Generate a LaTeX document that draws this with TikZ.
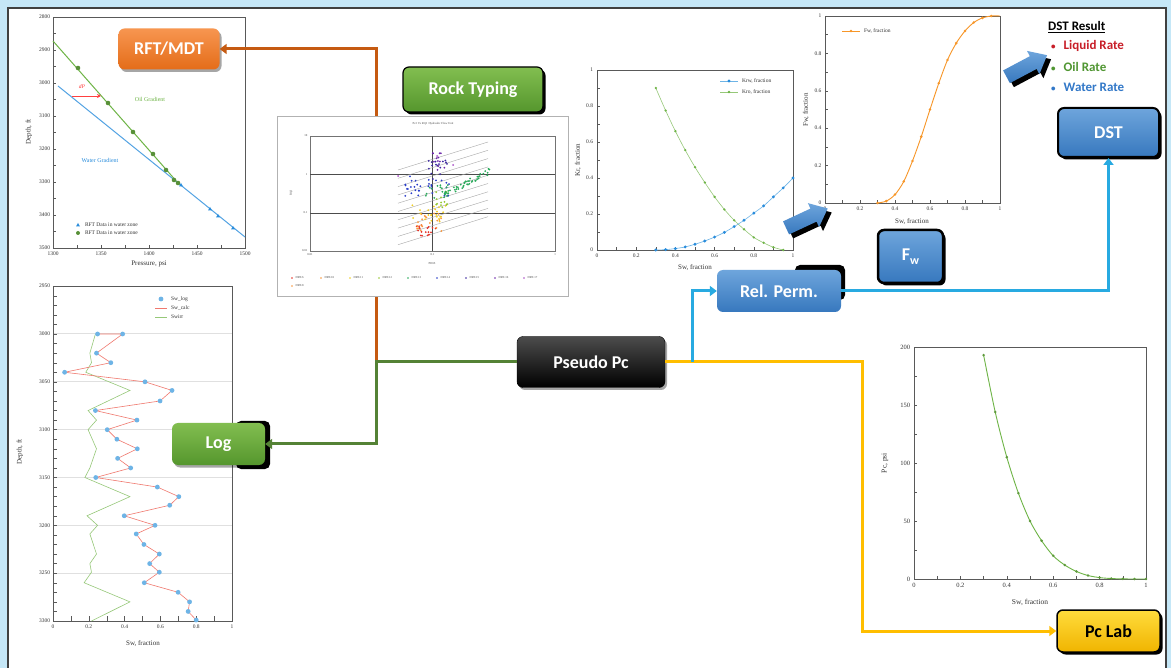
\documentclass[tikz,border=0pt]{standalone}
\usepackage{fontspec}
\setmainfont{Liberation Serif}
\newfontfamily\nodefont{Carlito}
\usetikzlibrary{arrows.meta,shapes.arrows,shadows}
\definecolor{bgblue}{RGB}{197,231,247}
\definecolor{orngA}{RGB}{247,150,80}
\definecolor{orngB}{RGB}{228,108,25}
\definecolor{orline}{RGB}{197,90,17}
\definecolor{grnA}{RGB}{130,190,80}
\definecolor{grnB}{RGB}{85,150,45}
\definecolor{grline}{RGB}{84,130,53}
\definecolor{bluA}{RGB}{110,165,220}
\definecolor{bluB}{RGB}{55,120,190}
\definecolor{blline}{RGB}{40,170,225}
\definecolor{yelA}{RGB}{255,220,60}
\definecolor{yelB}{RGB}{240,180,0}
\definecolor{ylline}{RGB}{255,190,0}
\definecolor{plgreen}{RGB}{110,180,70}
\definecolor{plblue}{RGB}{40,140,220}
\definecolor{plorange}{RGB}{247,150,40}
\definecolor{swblue}{RGB}{110,180,230}
\definecolor{swred}{RGB}{240,120,110}
\definecolor{swgreen}{RGB}{150,200,120}
\definecolor{dstred}{RGB}{200,30,40}
\definecolor{dstgreen}{RGB}{80,150,50}
\definecolor{dstblue}{RGB}{50,120,200}
\definecolor{rtred}{RGB}{230,50,40}
\definecolor{rtorange}{RGB}{250,150,60}
\definecolor{rtyellow}{RGB}{240,205,30}
\definecolor{rtlgreen}{RGB}{150,200,50}
\definecolor{rtgreen}{RGB}{40,170,90}
\definecolor{rtblue}{RGB}{40,60,200}
\definecolor{rtnavy}{RGB}{60,40,160}
\definecolor{rtpurple}{RGB}{110,40,170}
\definecolor{rtviolet}{RGB}{170,80,200}
\begin{document}
\begin{tikzpicture}[x=1pt,y=-1pt,
  tk/.style={font=\fontsize{5.5}{6}\selectfont, inner sep=0.8pt, text=black!80},
  tiny/.style={font=\fontsize{3}{3.5}\selectfont, inner sep=0.5pt, text=black!70},
  ax/.style={font=\fontsize{7}{8}\selectfont, inner sep=0pt, text=black!80},
  frame/.style={draw=black!65, line width=0.7pt},
  tick/.style={draw=black!65, line width=0.4pt},
  nbox/.style={rounded corners=6pt, font=\nodefont\bfseries\fontsize{18}{20}\selectfont, text=white, inner sep=0pt},
  conn/.style={line width=3pt},
  tip/.style={-{Triangle[length=7pt,width=10pt]}},
  hardshadow/.style={drop shadow={shadow xshift=2.5pt,shadow yshift=-2.5pt,opacity=1,fill=black}},
  softshadow/.style={drop shadow={shadow xshift=2pt,shadow yshift=-2.5pt,opacity=0.35,fill=black}},
  barrow/.style={single arrow, minimum height=46pt, inner sep=7pt, single arrow head extend=6pt, single arrow tip angle=80},
  dstf/.style={anchor=west, inner sep=0pt, font=\nodefont\bfseries\fontsize{13}{14}\selectfont},
]
\useasboundingbox (0,0) rectangle (1171,668);
\fill[bgblue] (0,0) rectangle (1171,668);
\filldraw[fill=white, draw=black!75, line width=2pt] (8,8) rectangle (1166,676);

% ---------------- RFT plot ----------------
\draw[frame] (53,17) rectangle (245,248);
\foreach \y/\l in {17/2800,50/2900,83/3000,116/3100,149/3200,182/3300,215/3400,248/3500}
  \node[tk,anchor=east] at (51,\y) {\l};
\foreach \x/\l in {53/1300,101/1350,149/1400,197/1450,245/1500}
  \node[tk,anchor=north] at (\x,251) {\l};
\foreach \y in {33.5,50,66.5,83,99.5,116,132.5,149,165.5,182,198.5,215,231.5}
  \draw[tick] (53,\y) -- (56,\y);
\foreach \x in {77,101,125,149,173,197,221}
  \draw[tick] (\x,248) -- (\x,245);
\draw[plgreen, line width=1pt] (53,41) -- (178,183);
\draw[plblue!80, line width=1pt] (58,86) -- (245,237);
\foreach \x/\y in {78/68,108/103,133/132,153/154,166/170,174/180,178/183}
  \fill[plgreen!80!black] (\x,\y) circle (2.3);
\foreach \x/\y in {181/185,210/209,218/216,233/228}
  \fill[plblue] (\x,\y-2) -- (\x+2,\y+1.5) -- (\x-2,\y+1.5) -- cycle;
\node[tk, text=plgreen, font=\fontsize{6}{7}\selectfont] (oilg) at (150,99) {Oil Gradient};
\node[tk, text=plblue, font=\fontsize{6}{7}\selectfont] (watg) at (100,160) {Water Gradient};
\node[tk, text=red!80, font=\itshape\fontsize{5.5}{6}\selectfont] (dp) at (82,87) {dP};
\draw[red!75, line width=0.7pt, -{Stealth[length=4pt,width=4pt]}] (72,96) -- (101,96);
\fill[plblue] (78,223) -- (80,226.5) -- (76,226.5) -- cycle;
\node[tk, anchor=west] (lg1) at (84,225) {RFT Data in water zone};
\fill[plgreen!80!black] (78,233) circle (2);
\node[tk, anchor=west] (lg2) at (84,233) {RFT Data in water zone};
\node[ax] (rftx) at (149,264) {Pressure, psi};
\node[ax, rotate=90] (rfty) at (29,132) {Depth, ft};

% ---------------- Log plot ----------------
\begin{scope}[shift={(53,334)}, x=179pt, y=-0.9567pt]
  \foreach \d in {0,50,...,250} \draw[black!12, line width=1pt] (0,\d) -- (1,\d);
  \draw[frame] (0,-50) rectangle (1,300);
  \foreach \d in {-50,0,...,300} {
    \pgfmathtruncatemacro\dd{\d+3000}
    \node[tk,anchor=east] at (-0.01,\d) {\dd};
  }
  \foreach \d in {-40,-30,...,290} \draw[tick] (0,\d) -- (0.02,\d);
  \foreach \v in {0.1,0.2,0.3,0.4,0.5,0.6,0.7,0.8,0.9} \draw[tick] (\v,300) -- (\v,295);
  \foreach \v in {0,0.2,0.4,0.6,0.8,1} \node[tk,anchor=north] at (\v,303) {\v};
  \draw[swgreen, line width=0.6pt] plot coordinates {(0.237,0) (0.206,20) (0.215,30) (0.183,40) (0.43,59) (0.196,80) (0.243,90) (0.196,100) (0.243,120) (0.206,140) (0.178,150) (0.43,170) (0.19,190) (0.249,200) (0.206,209) (0.243,230) (0.206,240) (0.215,249) (0.174,260) (0.43,280) (0.215,300)};
  \draw[swred, line width=0.6pt] plot coordinates {(0.249,0) (0.389,0) (0.243,20) (0.323,30) (0.065,40) (0.514,50) (0.665,59) (0.598,70) (0.237,80) (0.469,90) (0.303,100) (0.357,110) (0.471,120) (0.361,130) (0.434,140) (0.239,150) (0.583,160) (0.703,170) (0.652,179) (0.398,190) (0.570,200) (0.465,209) (0.508,220) (0.594,230) (0.540,240) (0.594,249) (0.510,260) (0.699,270) (0.763,280) (0.755,290) (0.80,299)};
  \foreach \s/\d in {0.249/0,0.389/0,0.243/20,0.323/30,0.065/40,0.514/50,0.665/59,0.598/70,0.237/80,0.469/90,0.303/100,0.357/110,0.471/120,0.361/130,0.434/140,0.239/150,0.583/160,0.703/170,0.652/179,0.398/190,0.570/200,0.465/209,0.508/220,0.594/230,0.540/240,0.594/249,0.510/260,0.699/270,0.763/280,0.755/290,0.80/299}
    \fill[swblue] (\s,\d) circle (2.4pt);
\end{scope}
\fill[swblue] (161,299) circle (2.4);
\node[tk, anchor=west] (l1) at (170,299) {Sw\_log};
\draw[swred, line width=0.6pt] (155,308) -- (167,308);
\node[tk, anchor=west] (l2) at (170,308) {Sw\_calc};
\draw[swgreen, line width=0.6pt] (155,317) -- (167,317);
\node[tk, anchor=west] (l3) at (170,317) {Swirr};
\node[ax] (logx) at (143,644) {Sw, fraction};
\node[ax, rotate=90] (logy) at (20,452) {Depth, ft};

% ---------------- Kr plot ----------------
\begin{scope}[shift={(597,250)}, x=196pt, y=180pt]
  \draw[frame] (0,0) rectangle (1,1);
  \foreach \v in {0.1,0.2,0.3,0.4,0.5,0.6,0.7,0.8,0.9} {
    \draw[tick] (\v,0) -- (\v,0.015);
    \draw[tick] (0,\v) -- (0.015,\v);
  }
  \foreach \v in {0,0.2,0.4,0.6,0.8,1} {
    \node[tk,anchor=north] at (\v,-0.015) {\v};
    \node[tk,anchor=east] at (-0.015,\v) {\v};
  }
  \draw[swgreen, line width=0.6pt] plot[smooth] coordinates {(0.3,0.9) (0.35,0.775) (0.4,0.66) (0.45,0.555) (0.5,0.46) (0.55,0.375) (0.6,0.295) (0.65,0.225) (0.7,0.165) (0.75,0.115) (0.8,0.07) (0.85,0.04) (0.9,0.015) (0.95,0)};
  \foreach \a/\b in {0.3/0.9,0.35/0.775,0.4/0.66,0.45/0.555,0.5/0.46,0.55/0.375,0.6/0.295,0.65/0.225,0.7/0.165,0.75/0.115,0.8/0.07,0.85/0.04,0.9/0.015,0.95/0}
    \fill[plgreen] (\a,\b) circle (1.3pt);
  \draw[swblue, line width=0.6pt] plot[smooth] coordinates {(0.3,0) (0.35,0.002) (0.4,0.008) (0.45,0.017) (0.5,0.032) (0.55,0.05) (0.6,0.072) (0.65,0.098) (0.7,0.13) (0.75,0.165) (0.8,0.205) (0.85,0.245) (0.9,0.295) (0.95,0.345) (1,0.4)};
  \foreach \a/\b in {0.3/0,0.35/0.002,0.4/0.008,0.45/0.017,0.5/0.032,0.55/0.05,0.6/0.072,0.65/0.098,0.7/0.13,0.75/0.165,0.8/0.205,0.85/0.245,0.9/0.295,0.95/0.345,1/0.4}
    \fill[plblue] (\a,\b) circle (1.6pt);
\end{scope}
\draw[swblue, line width=0.6pt] (720,81) -- (738,81); \fill[plblue] (729,81) circle (1.6);
\node[tk, anchor=west] (k1) at (741,81) {Krw, fraction};
\draw[swgreen, line width=0.6pt] (720,92) -- (738,92); \fill[plgreen] (729,92) circle (1.3);
\node[tk, anchor=west] (k2) at (741,92) {Kro, fraction};
\node[ax] (krx) at (695,268) {Sw, fraction};
\node[ax, rotate=90] (kry) at (578,160) {Kr, fraction};

% ---------------- Fw plot ----------------
\begin{scope}[shift={(825,203)}, x=175pt, y=187pt]
  \draw[frame] (0,0) rectangle (1,1);
  \foreach \v in {0.1,0.2,0.3,0.4,0.5,0.6,0.7,0.8,0.9} {
    \draw[tick] (\v,0) -- (\v,0.015);
    \draw[tick] (0,\v) -- (0.015,\v);
  }
  \foreach \v in {0,0.2,0.4,0.6,0.8,1} {
    \node[tk,anchor=north] at (\v,-0.015) {\v};
    \node[tk,anchor=east] at (-0.015,\v) {\v};
  }
  \draw[plorange, line width=0.9pt] plot[smooth] coordinates {(0.3,0) (0.35,0.01) (0.4,0.045) (0.45,0.115) (0.5,0.225) (0.55,0.355) (0.6,0.5) (0.65,0.64) (0.7,0.765) (0.75,0.855) (0.8,0.92) (0.85,0.965) (0.9,0.99) (0.95,1) (1,1)};
  \foreach \a/\b in {0.3/0,0.35/0.01,0.4/0.045,0.45/0.115,0.5/0.225,0.55/0.355,0.6/0.5,0.65/0.64,0.7/0.765,0.75/0.855,0.8/0.92,0.85/0.965,0.9/0.99,0.95/1}
    \fill[plorange] (\a,\b) circle (1.4pt);
\end{scope}
\draw[plorange, line width=0.9pt] (842,31) -- (860,31); \fill[plorange] (851,31) circle (1.4);
\node[tk, anchor=west] (f1) at (863,31) {Fw, fraction};
\node[ax] (fwx) at (912,222) {Sw, fraction};
\node[ax, rotate=90] (fwy) at (806,110) {Fw, fraction};

% ---------------- Pc plot ----------------
\begin{scope}[shift={(914,579)}, x=232pt, y=1.16pt]
  \draw[frame] (0,0) rectangle (1,200);
  \foreach \v in {0.1,0.2,0.3,0.4,0.5,0.6,0.7,0.8,0.9} \draw[tick] (\v,0) -- (\v,3);
  \foreach \v in {25,50,75,100,125,150,175} \draw[tick] (0,\v) -- (0.012,\v);
  \foreach \v in {0,0.2,0.4,0.6,0.8,1} \node[tk,anchor=north, font=\fontsize{6.5}{7}\selectfont] at (\v,-3) {\v};
  \foreach \v in {0,50,100,150,200} \node[tk,anchor=east, font=\fontsize{6.5}{7}\selectfont] at (-0.012,\v) {\v};
  \draw[plgreen, line width=0.9pt] plot[smooth] coordinates {(0.3,193) (0.35,144) (0.4,105) (0.45,74) (0.5,50) (0.55,33) (0.6,20) (0.65,12) (0.7,6.5) (0.75,3) (0.8,1.2) (0.85,0.4) (0.9,0.1) (0.95,0) (1,0)};
  \foreach \a/\b in {0.3/193,0.35/144,0.4/105,0.45/74,0.5/50,0.55/33,0.6/20,0.65/12,0.7/6.5,0.75/3,0.8/1.2,0.85/0.4,0.9/0.1,0.95/0,1/0}
    \fill[plgreen!85!black] (\a,\b) circle (1.4pt);
\end{scope}
\node[ax, font=\fontsize{7.5}{8}\selectfont] (pcx) at (1030,602) {Sw, fraction};
\node[ax, rotate=90, font=\fontsize{7.5}{8}\selectfont] (pcy) at (885,463) {Pc, psi};

% ---------------- junctions ----------------
\coordinate (jg) at (376,362);
\coordinate (jb) at (692,362);
\coordinate (jy) at (862,362);

% ---------------- nodes ----------------
\node[nbox, softshadow, top color=orngA, bottom color=orngB, minimum width=101pt, minimum height=41pt] (rft) at (169,49) {RFT/MDT};
\node[nbox, hardshadow, draw=black, line width=1.2pt, top color=grnA, bottom color=grnB, minimum width=140pt, minimum height=45pt] (rock) at (473,89.5) {Rock Typing};
\fill[black, rounded corners=5pt] (236,421) rectangle (270,469);
\node[nbox, softshadow, top color=grnA, bottom color=grnB, minimum width=93pt, minimum height=42pt] (log) at (218.5,444) {Log};
\node[nbox, softshadow, top color=black!70, bottom color=black, draw=black, minimum width=148pt, minimum height=51pt] (pseudo) at (591,362) {Pseudo Pc};
\fill[black, rounded corners=5pt] (795,265) rectangle (845,300);
\node[nbox, top color=bluA, bottom color=bluB, minimum width=124pt, minimum height=42pt] (relperm) at (779,291) {Rel. Perm.};
\node[nbox, hardshadow, draw=black, line width=2.5pt, top color=bluA, bottom color=bluB, minimum width=65pt, minimum height=53pt] (fw) at (910.5,256.5) {F\raisebox{-0.45ex}{\fontsize{12}{12}\selectfont w}};
\node[nbox, hardshadow, draw=black, line width=2pt, top color=bluA, bottom color=bluB, minimum width=101pt, minimum height=49pt] (dst) at (1108.5,132.5) {DST};
\node[nbox, hardshadow, draw=black, line width=1.5pt, top color=yelA, bottom color=yelB, text=black, minimum width=103pt, minimum height=42pt] (pclab) at (1108.5,631) {Pc Lab};

% ---------------- connectors ----------------
\draw[conn, orline, tip] (jg) |- (rft.east);
\draw[conn, grline, tip] (pseudo.west) -- (jg) |- (log.east);
\draw[conn, ylline, tip] (pseudo.east) -- (jy) |- (pclab.west);
\draw[conn, blline, tip] (jb) |- (relperm.west);
\draw[conn, blline, tip] (relperm.east) -| (dst.south);

% ---------------- Rock typing plot ----------------
\filldraw[fill=white, draw=black!30, line width=0.6pt] (277,116) rectangle (568,296);
\node[tiny] (rtt) at (433,124) {Pc2 Vs RQI \ Hydraulic Flow Unit};
\draw[black!55, line width=0.5pt] (310,136) rectangle (555,251);
\draw[black!70, line width=0.6pt] (310,174.7) -- (555,174.7) (310,213) -- (555,213) (432.5,136) -- (432.5,251);
\foreach \y/\l in {136/10,174.7/1,213/0.1,251/0.01} \node[tiny,anchor=east] at (308,\y) {\l};
\foreach \x/\l in {310/0.01,432.5/0.1,555/1} \node[tiny,anchor=north] at (\x,253) {\l};
\node[tiny, rotate=90] (rty) at (291,193) {RQI};
\node[tiny] (rtx) at (432,264) {PHIZ};
\foreach \i in {0,...,9} \draw[black!35, line width=0.4pt] (398,{170+8.3*\i}) -- (488,{142+8.3*\i});
\pgfmathsetseed{11}
\foreach \c/\xa/\xb/\ya/\yb/\n in {rtred/414/437/224/241/18, rtorange/417/442/213/232/20, rtyellow/412/446/205/222/22, rtlgreen/436/448/192/212/12, rtblue/405/452/176/196/32, rtnavy/428/452/160/180/16, rtpurple/430/448/153/170/12, rtgreen/425/450/185/198/16}
  \foreach \i in {1,...,\n}
    \fill[\c] ({\xa+rnd*(\xb-\xa)},{\ya+rnd*(\yb-\ya)}) circle (1);
\foreach \i in {1,...,45}
  \pgfmathsetmacro\tt{rnd}
  \fill[rtgreen] ({445+\tt*45},{194-\tt*23+rand*3}) circle (1);
\fill[rtviolet] (398,176) circle (1); \fill[rtviolet] (437,156) circle (1); \fill[rtviolet] (453,165) circle (1);
\foreach \k/\c/\l in {0/rtred/DRT-6,1/rtorange/DRT-10,2/rtyellow/DRT-11,3/rtlgreen/DRT-12,4/rtgreen/DRT-13,5/rtblue/DRT-14,6/rtnavy/DRT-15,7/rtpurple/DRT-16,8/rtviolet/DRT-17} {
  \fill[\c] ({292+29*\k},278) circle (0.8);
  \node[tiny, anchor=west] at ({295+29*\k},278) {\l};
}
\fill[rtorange] (292,286) circle (0.8);
\node[tiny, anchor=west] (rtl) at (295,286) {DRT-8};

% ---------------- block arrows ----------------
\node[barrow, fill=black, rotate=25] (a1s) at (807,224) {};
\node[barrow, top color=bluA, bottom color=bluB, rotate=25] (a1) at (803,220) {};
\node[barrow, fill=black, rotate=28] (a2s) at (1027,72) {};
\node[barrow, top color=bluA, bottom color=bluB, rotate=28] (a2) at (1023,68) {};

% ---------------- DST result ----------------
\node[dstf] (dstr) at (1048,27) {\underline{DST Result}};
\node[dstf, text=dstred] (liq) at (1051,46) {{\fontsize{9}{9}\selectfont\textbullet}\hspace{8pt}Liquid Rate};
\node[dstf, text=dstgreen] (oil) at (1051,67) {{\fontsize{9}{9}\selectfont\textbullet}\hspace{8pt}Oil Rate};
\node[dstf, text=dstblue] (wat) at (1051,87) {{\fontsize{9}{9}\selectfont\textbullet}\hspace{8pt}Water Rate};
\end{tikzpicture}
\end{document}
